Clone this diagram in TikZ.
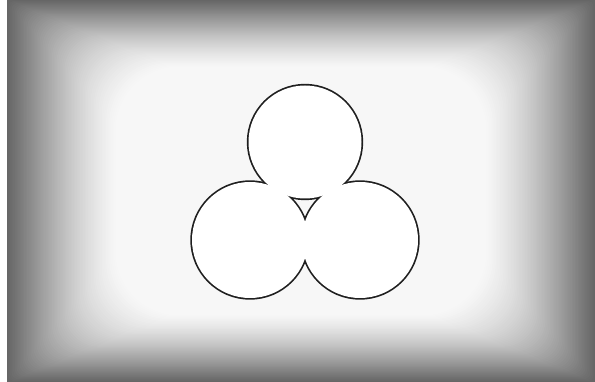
\documentclass[tikz,border=0pt]{standalone}
\begin{document}
\begin{tikzpicture}[x=1pt,y=-1pt,
  ringline/.style={circle,draw=black!88,line width=3.4pt,inner sep=0pt,minimum size=#1},
  ringfill/.style={fill=white}]
\useasboundingbox (0,0) rectangle (595,382);
\colorlet{edgecol}{black!60}
\colorlet{centrecol}{black!3}
\fill[white] (0,0) rectangle (595,382);
\fill[edgecol] (7,0) rectangle (595,382);
\foreach \i in {1,...,70}{
  \pgfmathsetmacro\t{\i/70}
  \pgfmathsetmacro\g{100*(0.55*\t+0.45*sin(90*\t))}
  \pgfmathsetmacro\dx{\i*1.55}
  \pgfmathsetmacro\dy{\i*0.95}
  \pgfmathsetmacro\rc{4+\i*0.85}
  \fill[centrecol!\g!edgecol, rounded corners=\rc pt]
    (7+\dx,\dy) rectangle (595-\dx,382-\dy);
}
% circles: outlines first, then white interiors to keep only the union outline
\node[ringline=113pt] (top) at (305,142) {};
\node[ringline=116pt] (left) at (250,240) {};
\node[ringline=116pt] (right) at (360,240) {};
\fill[ringfill] (top.center) circle (56.5);
\fill[ringfill] (left.center) circle (58);
\fill[ringfill] (right.center) circle (58);
\end{tikzpicture}
\end{document}
